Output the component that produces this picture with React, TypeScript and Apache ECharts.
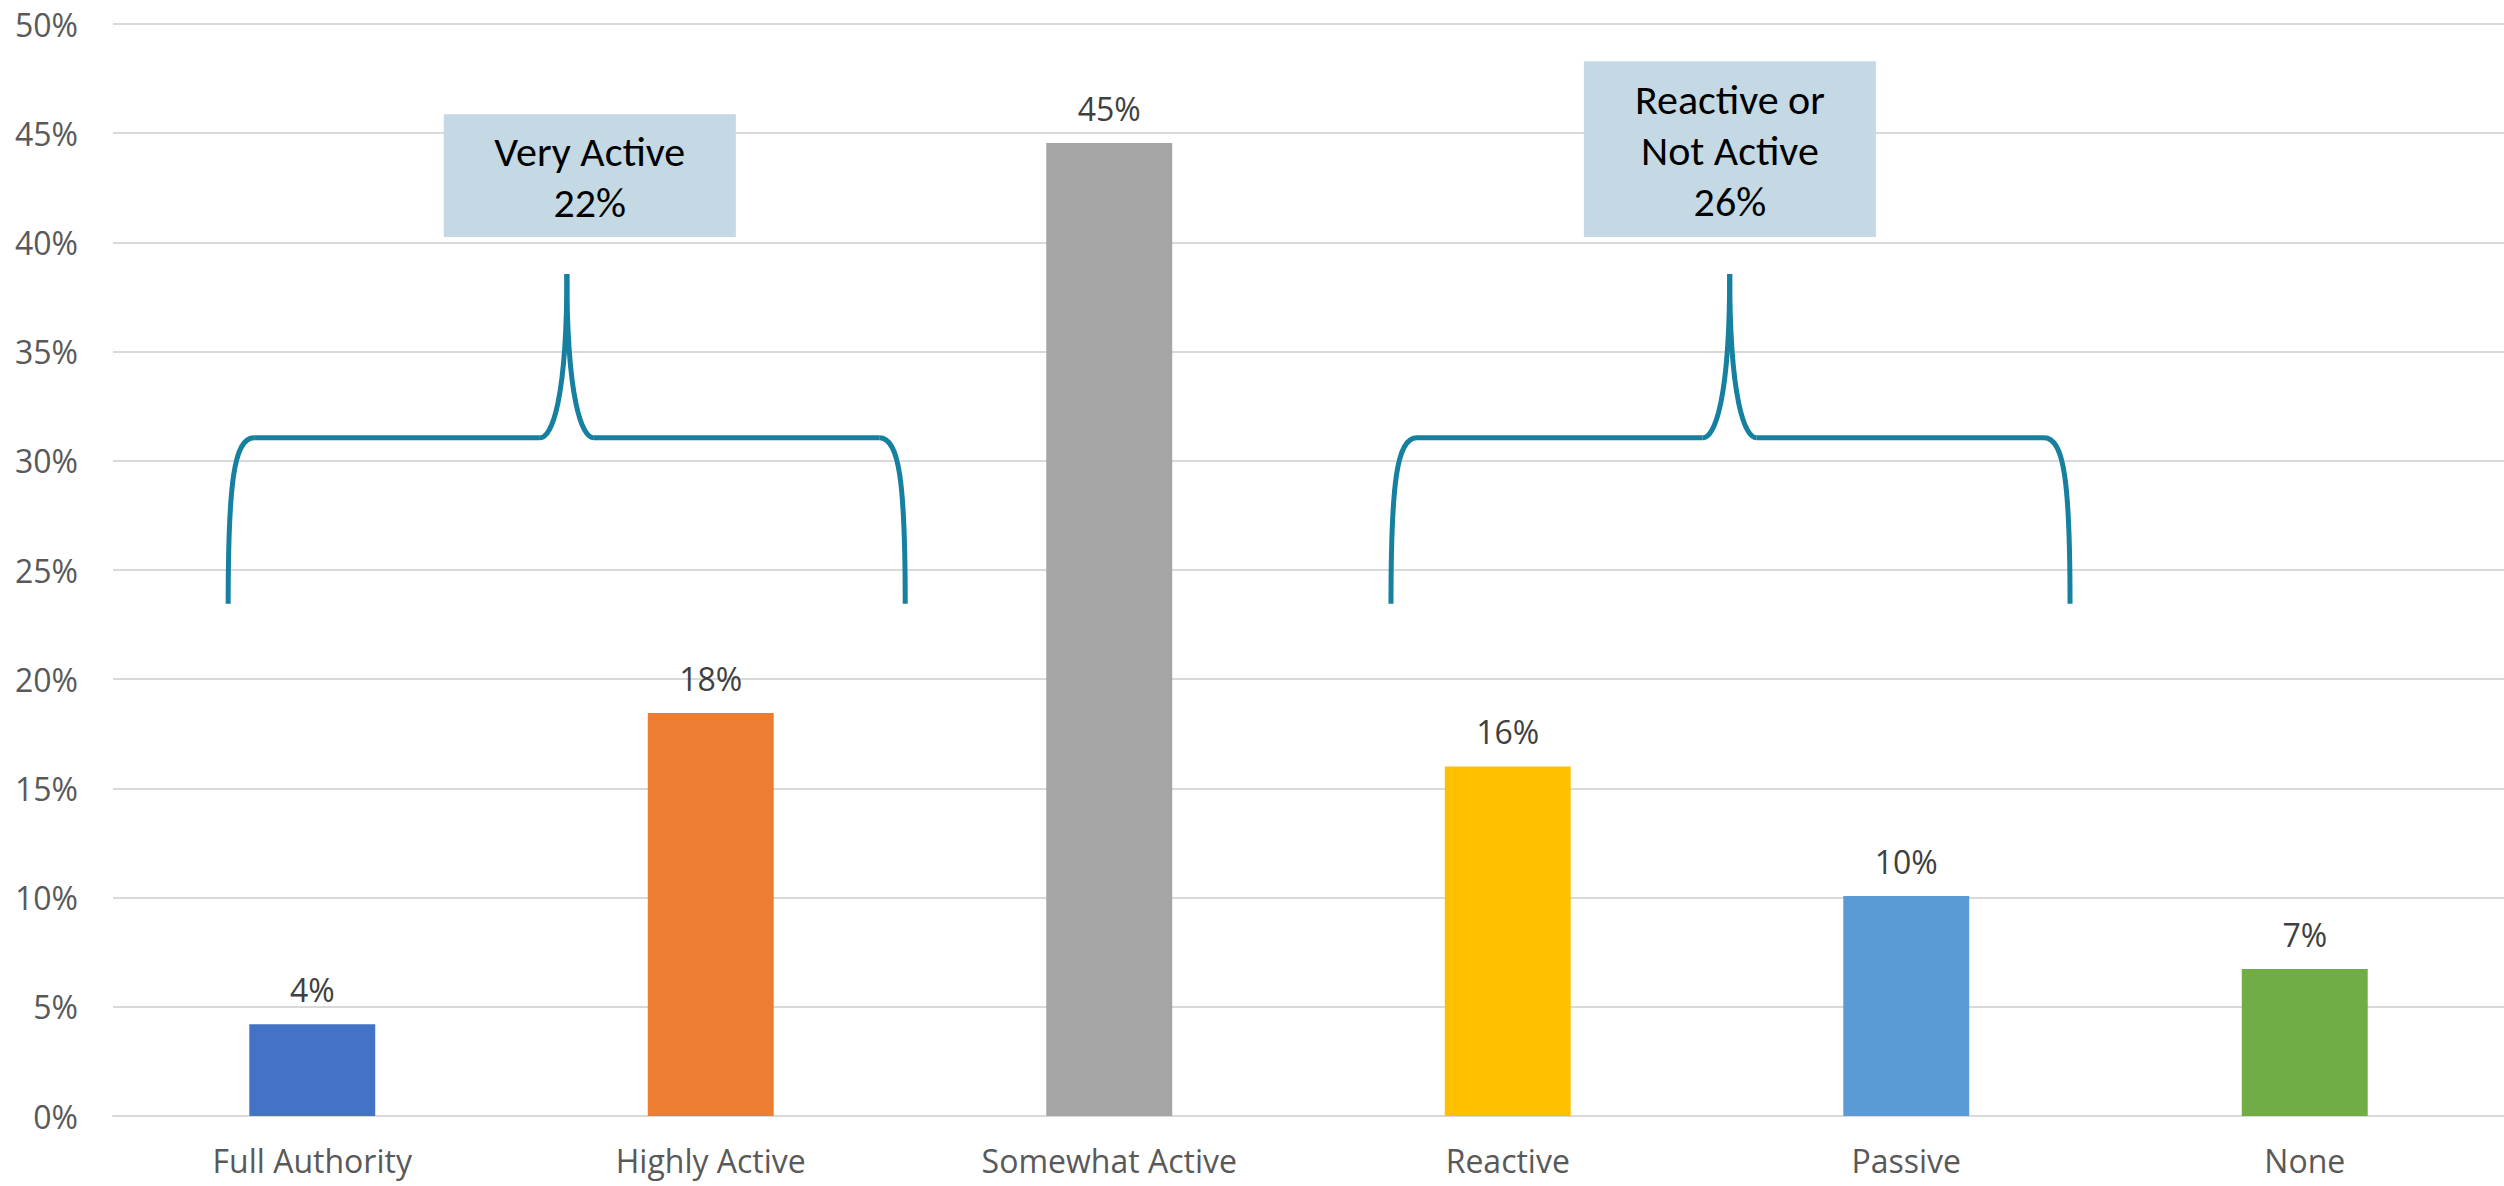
import React, { useEffect, useRef } from "react";
import * as echarts from "echarts";

// Engagement levels and their share of respondents (%)
const categories = [
  "Full Authority",
  "Highly Active",
  "Somewhat Active",
  "Reactive",
  "Passive",
  "None",
];
const shares = [4.2, 18.45, 44.55, 16.0, 10.07, 6.73];
const barColors = ["#4472C4", "#ED7D31", "#A5A5A5", "#FFC000", "#5B9BD5", "#70AD47"];

// Value axis: 0% .. 50% in steps of 5
const yMin = 0;
const yMax = 50;
const yStep = 5;

// Grouped summaries shown above the braces
const groupTitles = ["Very Active", "Reactive or\nNot Active"];
const groupShares = [22, 26];

const FONT_AXIS = "'Open Sans', 'Noto Sans', sans-serif";
const FONT_NOTE = "Carlito, Lato, 'Liberation Sans', sans-serif";
const BRACE_COLOR = "#15809F";
const BOX_COLOR = "#C4D9E3";

// Brace and box placement, in category units (x) and axis values (y)
const braces = [
  { left: -0.211, right: 1.488, tip: 0.639, boxL: 0.33, boxR: 1.063, boxTop: 45.87, boxBottom: 40.25 },
  { left: 2.707, right: 4.411, tip: 3.557, boxL: 3.191, boxR: 3.924, boxTop: 48.3, boxBottom: 40.25 },
];
const braceBottom = 23.45;
const braceMid = 31.05;
const braceTip = 38.55;

export default function App() {
  const ref = useRef<HTMLDivElement>(null);

  useEffect(() => {
    if (!ref.current) return;
    const chart = echarts.init(ref.current, null, { renderer: "svg" });

    chart.setOption({
      animation: false,
      backgroundColor: "#ffffff",
      grid: { left: 113, right: -6, top: 24, bottom: 70, containLabel: false },
      xAxis: {
        type: "category",
        data: categories,
        axisTick: { show: false },
        axisLine: { show: true, lineStyle: { color: "#D9D9D9", width: 2 } },
        axisLabel: {
          color: "#595959",
          fontFamily: FONT_AXIS,
          fontSize: 32,
          margin: 28,
        },
      },
      yAxis: {
        type: "value",
        min: yMin,
        max: yMax,
        interval: yStep,
        axisLine: { show: false },
        axisTick: { show: false },
        splitLine: { lineStyle: { color: "#D9D9D9", width: 2 } },
        axisLabel: {
          color: "#595959",
          fontFamily: FONT_AXIS,
          fontSize: 32,
          margin: 35,
          formatter: "{value}%",
        },
      },
      series: [
        {
          type: "bar",
          barCategoryGap: "68.4%",
          data: shares.map((v, i) => ({ value: v, itemStyle: { color: barColors[i] } })),
          label: {
            show: true,
            position: "top",
            distance: 19,
            color: "#404040",
            fontFamily: FONT_AXIS,
            fontSize: 32,
            formatter: (p: any) => `${Math.round(p.value)}%`,
          },
        },
      ],
    });

    // Pixel helpers derived from the chart's own axes
    const c0 = chart.convertToPixel({ xAxisIndex: 0 }, 0) as number;
    const c1 = chart.convertToPixel({ xAxisIndex: 0 }, 1) as number;
    const step = c1 - c0;
    const px = (cat: number) => c0 + cat * step;
    const py = (v: number) => chart.convertToPixel({ yAxisIndex: 0 }, v) as number;

    const stroke = { stroke: BRACE_COLOR, lineWidth: 5, fill: null, lineCap: "butt" };
    const cornerW = 26;
    const tipW = 27;

    const elements: any[] = [];
    braces.forEach((b, i) => {
      const xL = px(b.left);
      const xR = px(b.right);
      const xT = px(b.tip);
      const yB = py(braceBottom);
      const yM = py(braceMid);
      const yT = py(braceTip);
      const legH = yB - yM;
      const tipH = yM - yT;

      const children: any[] = [
        {
          type: "bezierCurve",
          shape: { x1: xL, y1: yB, cpx1: xL, cpy1: yM + 0.26 * legH, cpx2: xL + 6, cpy2: yM, x2: xL + cornerW, y2: yM },
          style: stroke,
        },
        { type: "line", shape: { x1: xL + cornerW, y1: yM, x2: xT - tipW, y2: yM }, style: stroke },
        {
          type: "bezierCurve",
          shape: { x1: xT - tipW, y1: yM, cpx1: xT - 15, cpy1: yM, cpx2: xT, cpy2: yM - 0.23 * tipH, x2: xT, y2: yT },
          style: stroke,
        },
        {
          type: "bezierCurve",
          shape: { x1: xT, y1: yT, cpx1: xT, cpy1: yM - 0.23 * tipH, cpx2: xT + 15, cpy2: yM, x2: xT + tipW, y2: yM },
          style: stroke,
        },
        { type: "line", shape: { x1: xT + tipW, y1: yM, x2: xR - cornerW, y2: yM }, style: stroke },
        {
          type: "bezierCurve",
          shape: { x1: xR - cornerW, y1: yM, cpx1: xR - 6, cpy1: yM, cpx2: xR, cpy2: yM + 0.26 * legH, x2: xR, y2: yB },
          style: stroke,
        },
      ];

      const bx0 = px(b.boxL);
      const bx1 = px(b.boxR);
      const by0 = py(b.boxTop);
      const by1 = py(b.boxBottom);
      children.push({
        type: "rect",
        shape: { x: bx0, y: by0, width: bx1 - bx0, height: by1 - by0 },
        style: { fill: BOX_COLOR },
      });
      children.push({
        type: "text",
        x: (bx0 + bx1) / 2,
        y: (by0 + by1) / 2 + 1,
        style: {
          text: `${groupTitles[i]}\n${groupShares[i]}%`,
          fill: "#000000",
          fontFamily: FONT_NOTE,
          fontSize: 42,
          lineHeight: 51,
          align: "center",
          verticalAlign: "middle",
        },
      });

      elements.push({ type: "group", children });
    });

    chart.setOption({ graphic: elements });

    return () => chart.dispose();
  }, []);

  return (
    <div
      ref={ref}
      style={{ position: "absolute", left: 0, top: 0, width: 2504, height: 1186 }}
    />
  );
}
